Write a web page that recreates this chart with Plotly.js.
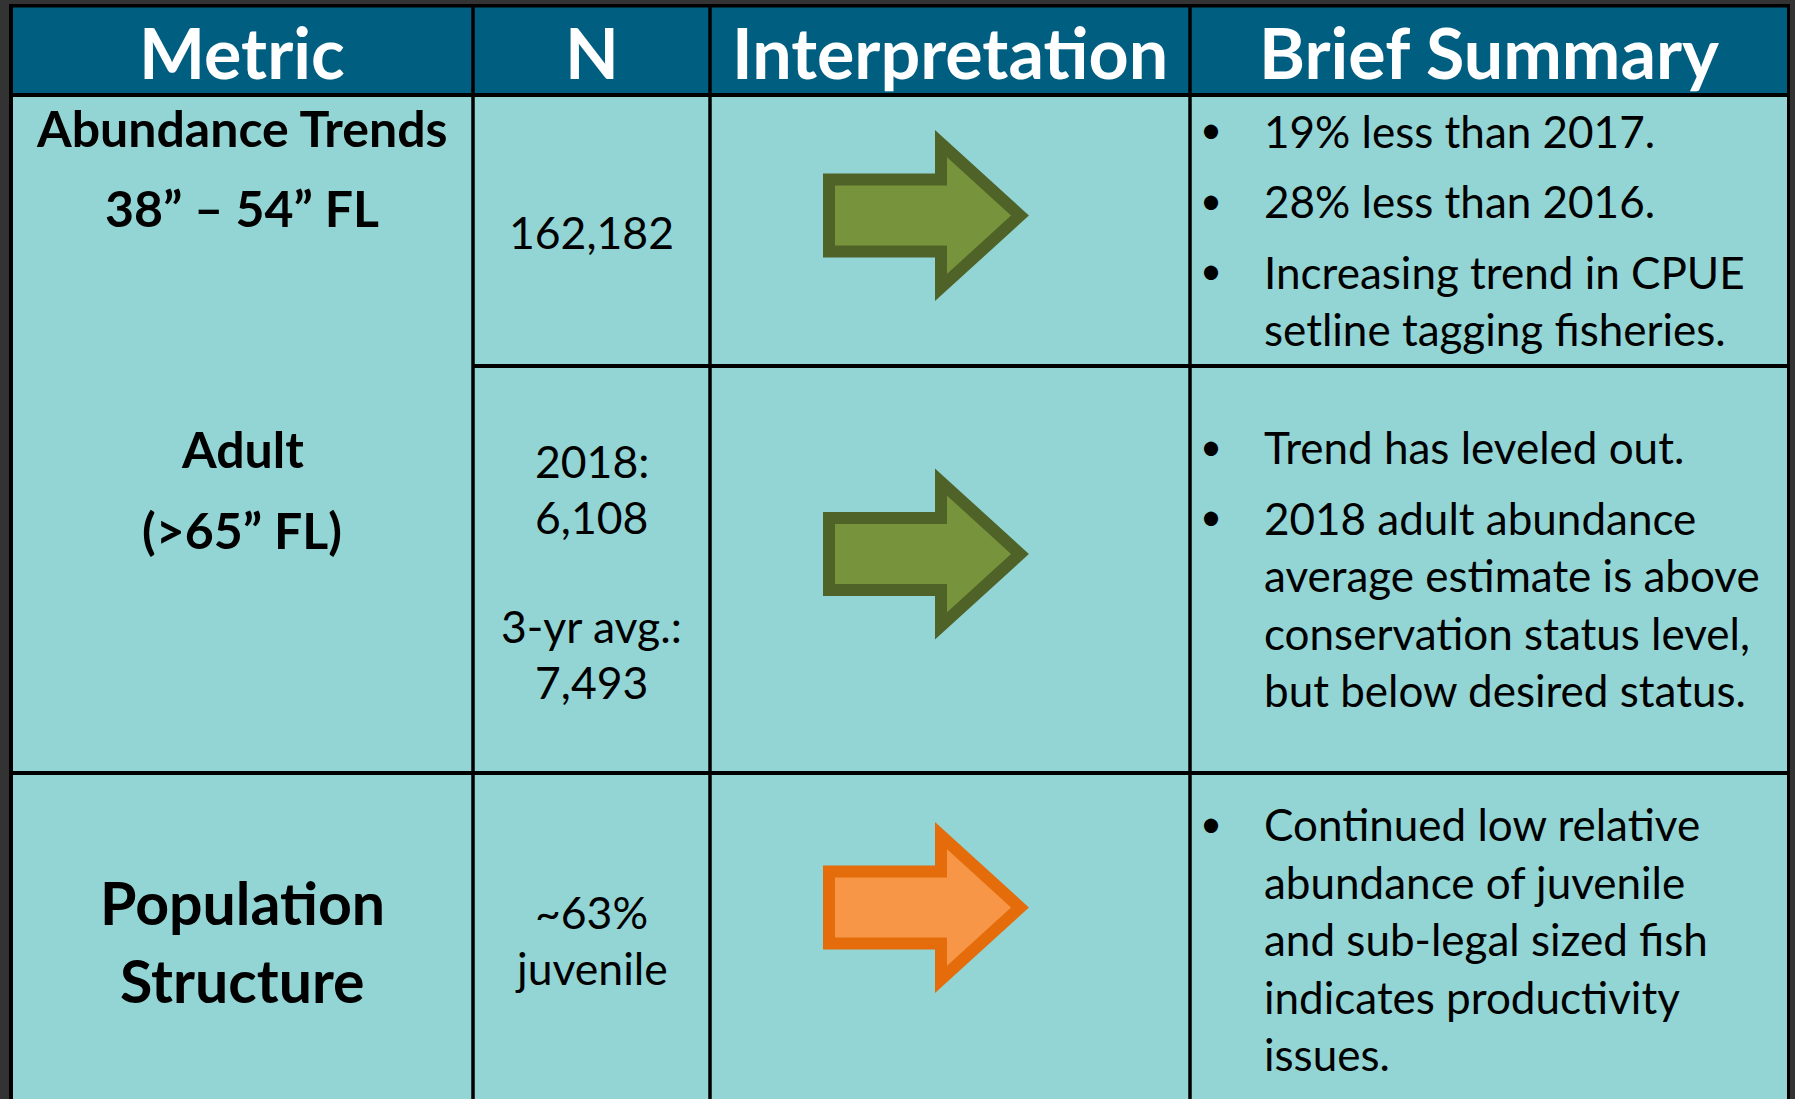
<!DOCTYPE html>
<html>
<head>
<meta charset="utf-8">
<script src="https://cdn.plot.ly/plotly-3.0.1.min.js"></script>
<style>
  html, body { margin: 0; padding: 0; background: #333333; overflow: hidden; }
  #chart { width: 1795px; height: 1099px; }
</style>
</head>
<body>
<div id="chart"></div>
<script>
// ---------- DATA ----------
const columns = ["Metric", "N", "Interpretation", "Brief Summary"];
const metricLabels = [
  ["Abundance Trends", "38” – 54” FL"],
  ["Adult", "(>65” FL)"],
  ["Population", "Structure"]
];
const nValues = [
  [["162,182"]],
  [["2018:", "6,108"], ["3-yr avg.:", "7,493"]],
  [["~63%", "juvenile"]]
];
const interpretation = ["steady", "steady", "steady"];
const status = ["good", "good", "concern"];
const summaries = [
  ["19% less than 2017.", "28% less than 2016.", "Increasing trend in CPUE<br>setline tagging fisheries."],
  ["Trend has leveled out.", "2018 adult abundance<br>average estimate is above<br>conservation status level,<br>but below desired status."],
  ["Continued low relative<br>abundance of juvenile<br>and sub-legal sized fish<br>indicates productivity<br>issues."]
];

// ---------- LAYOUT / STYLE ----------
const W = 1795, H = 1099;
const colEdges = [11, 473, 710, 1190, 1788.5];
const headTop = 5.75, headBottom = 95, tableBottom = 1130;
const subRowLine = 366;      // splits N / Interpretation / Summary between rows 1 and 2
const rowLine = 773;         // full-width row line
const headerColor = "#005E80";
const bodyColor = "#92D5D4";
const FONT = "Lato, 'Open Sans', sans-serif";
const statusColors = {
  good:    { fill: "#77933C", line: "#4F6228" },
  concern: { fill: "#F79646", line: "#E46C0A" }
};
const headerY = 52;
const headerSize = 70;
const metricY = [[128, 208], [449, 530], [902, 980]];
const metricSize = [50, 50, 59];
const nSize = 44.5;
const nFirstY = [231, 460, 911];
const nLineStep = 56, nGroupStep = 165;
const sumSize = 44;
const sumX = 1262, bulletX = 1211;
const sumStartY = [130.5, 447, 824];
const sumLineStep = 57.5, sumBulletStep = 70.5;
const arrowCY = [215.5, 554, 907.5];

const colCenter = i => (colEdges[i] + colEdges[i + 1]) / 2;

const shapes = [];
const annotations = [];

// cell backgrounds
shapes.push({type: "rect", xref: "x", yref: "y", x0: colEdges[0], x1: colEdges[4], y0: headTop, y1: headBottom,
  fillcolor: headerColor, line: {width: 0}, layer: "below"});
shapes.push({type: "rect", xref: "x", yref: "y", x0: colEdges[0], x1: colEdges[4], y0: headBottom, y1: tableBottom,
  fillcolor: bodyColor, line: {width: 0}, layer: "below"});

// arrows (interpretation)
function arrowPath(cy, dir) {
  const xl = 829, xb = 941, xt = 1020, sh = 36, hh = 72;
  if (dir === "steady") {
    return `M ${xl},${cy - sh} L ${xb},${cy - sh} L ${xb},${cy - hh} L ${xt},${cy} L ${xb},${cy + hh} L ${xb},${cy + sh} L ${xl},${cy + sh} Z`;
  }
  return "";
}
interpretation.forEach((d, i) => {
  const c = statusColors[status[i]];
  shapes.push({type: "path", xref: "x", yref: "y", path: arrowPath(arrowCY[i], d),
    fillcolor: c.fill, line: {color: c.line, width: 12}});
});

// grid lines
function hline(y, x0, x1, w) {
  shapes.push({type: "line", xref: "x", yref: "y", x0: x0, x1: x1, y0: y, y1: y, line: {color: "#000000", width: w}});
}
function vline(x, y0, y1, w) {
  shapes.push({type: "line", xref: "x", yref: "y", x0: x, x1: x, y0: y0, y1: y1, line: {color: "#000000", width: w}});
}
hline(headTop, colEdges[0] - 2, colEdges[4] + 1.5, 3.5);
hline(headBottom, colEdges[0], colEdges[4], 4);
hline(subRowLine, colEdges[1], colEdges[4], 4);
hline(rowLine, colEdges[0], colEdges[4], 4);
vline(colEdges[0], headTop, tableBottom, 4);
vline(colEdges[1], headTop, tableBottom, 3.5);
vline(colEdges[2], headTop, tableBottom, 3.5);
vline(colEdges[3], headTop, tableBottom, 3.5);
vline(colEdges[4], headTop, tableBottom, 3);

function addText(text, x, y, size, opts) {
  annotations.push(Object.assign({
    text: text, x: x, y: y, xref: "x", yref: "y", showarrow: false,
    xanchor: "center", yanchor: "middle",
    font: {family: FONT, size: size, color: "#000000"}
  }, opts || {}));
}

// header
columns.forEach((c, i) => {
  addText("<b>" + c + "</b>", colCenter(i), headerY, headerSize,
    {font: {family: FONT, size: headerSize, color: "#FFFFFF"}});
});

// metric column
metricLabels.forEach((lines, r) => {
  lines.forEach((t, k) => addText("<b>" + t + "</b>", colCenter(0), metricY[r][k], metricSize[r]));
});

// N column
nValues.forEach((groups, r) => {
  groups.forEach((g, gi) => {
    g.forEach((t, k) => addText(t, colCenter(1), nFirstY[r] + gi * nGroupStep + k * nLineStep, nSize));
  });
});

// summary column
summaries.forEach((items, r) => {
  let y = sumStartY[r];
  items.forEach((item) => {
    const lines = item.split("<br>");
    addText("•", bulletX, y - 2.5, 38);
    lines.forEach((t, k) => {
      addText(t, sumX, y, sumSize, {xanchor: "left"});
      if (k < lines.length - 1) y += sumLineStep;
    });
    y += sumBulletStep;
  });
});

const layout = {
  width: W, height: H,
  margin: {l: 0, r: 0, t: 0, b: 0, pad: 0},
  paper_bgcolor: "#333333",
  plot_bgcolor: "#333333",
  showlegend: false,
  xaxis: {range: [0, W], visible: false, fixedrange: true},
  yaxis: {range: [H, 0], visible: false, fixedrange: true},
  shapes: shapes,
  annotations: annotations
};

Plotly.newPlot("chart", [{x: [], y: [], type: "scatter", mode: "markers", hoverinfo: "skip"}], layout,
  {staticPlot: true, displayModeBar: false, responsive: false});
</script>
</body>
</html>
